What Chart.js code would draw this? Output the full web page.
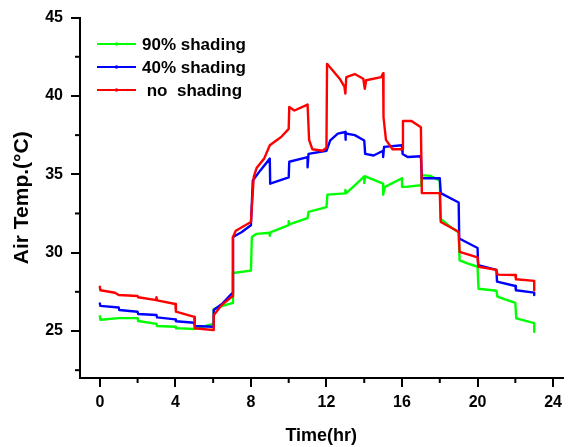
<!DOCTYPE html>
<html>
<head>
<meta charset="utf-8">
<script src="https://cdn.jsdelivr.net/npm/chart.js@4.4.1/dist/chart.umd.min.js"></script>
<style>
  html, body { margin: 0; padding: 0; background: #fff; }
  #wrap { width: 568px; height: 447px; }
</style>
</head>
<body>
<div id="wrap"><canvas id="grafico"></canvas></div>
<script>
// dados: [hora, temperatura]
const shading90 = [
  [0, 25.95], [0.03, 25.72], [1, 25.82], [2, 25.82], [2.03, 25.64], [3, 25.45], [3.03, 25.32],
  [4, 25.27], [4.03, 25.18], [5, 25.13], [5.5, 25.3], [6, 25.45], [6.03, 26.4], [6.5, 26.6],
  [7, 26.78], [7.05, 28.7], [8, 28.85], [8.05, 31.0], [8.3, 31.2], [9, 31.27], [9, 31.08],
  [9.03, 31.3], [10, 31.75], [10, 32.0], [10.03, 31.8], [11, 32.2], [11.05, 32.6], [12, 32.9],
  [12.05, 33.7], [13, 33.78], [13, 34.0], [13.05, 33.8], [13.5, 34.3], [14, 34.87], [14, 34.45],
  [14.05, 34.87], [15, 34.4], [15, 33.7], [15.1, 34.2], [16, 34.75], [16, 34.2], [16.2, 34.2],
  [17, 34.3], [17.05, 34.95], [17.5, 34.9], [18, 34.6], [18.05, 32.15], [18.5, 31.7], [19, 31.28],
  [19.05, 29.5], [19.5, 29.3], [20, 29.1], [20.05, 27.7], [21, 27.57], [21.05, 27.2], [21.5, 27.0],
  [22, 26.8], [22.05, 25.8], [23, 25.5], [23, 24.95]
];

const shading40 = [
  [0, 26.76], [0.03, 26.6], [1, 26.5], [1.03, 26.34], [2, 26.23], [2.03, 26.08], [3, 26.02],
  [3.03, 25.87], [4, 25.74], [4.03, 25.62], [5, 25.53], [5.03, 25.32], [6, 25.27], [6.03, 26.34],
  [6.5, 26.76], [7, 27.4], [7.05, 31.0], [7.5, 31.3], [8, 31.75], [8.1, 34.6], [8.5, 35.25],
  [9, 36.0], [9.02, 34.4], [10, 34.8], [10.03, 35.8], [11, 36.1], [11, 35.45], [11.05, 36.3],
  [12, 36.5], [12.2, 37.16], [12.6, 37.6], [13, 37.7], [13, 37.2], [13.03, 37.6], [13.5, 37.5],
  [14, 37.16], [14.05, 36.3], [14.5, 36.2], [15, 36.5], [15, 36.1], [15.05, 36.75], [16, 36.85],
  [16.03, 36.3], [16.3, 36.1], [17, 36.15], [17.05, 34.75], [18, 34.75], [18.05, 33.8], [19, 33.2],
  [19.03, 30.9], [20, 30.3], [20.03, 29.2], [21, 28.9], [21.03, 28.15], [22, 27.87], [22.03, 27.6],
  [23, 27.45], [23, 27.3]
];

const noShading = [
  [0, 27.82], [0.03, 27.6], [0.8, 27.44], [1, 27.3], [2, 27.23], [2.03, 27.15], [3, 26.97],
  [3, 27.15], [3.03, 26.95], [4, 26.72], [4.03, 26.23], [5, 25.9], [5.03, 25.17], [6, 25.06],
  [6.03, 26.0], [6.45, 26.65], [7, 27.2], [7.05, 31.0], [7.2, 31.4], [8, 31.96], [8.15, 34.83],
  [8.3, 35.4], [8.7, 36.0], [9, 36.85], [9.6, 37.38], [10, 37.9], [10.03, 39.3], [10.3, 39.07],
  [11, 39.45], [11.08, 37.2], [11.25, 36.6], [11.8, 36.5], [12, 36.7], [12.03, 42.05],
  [12.7, 41.1], [12.95, 40.6], [13, 40.15], [13.05, 41.2], [13.5, 41.4], [13.95, 41.1],
  [14.03, 40.45], [14.1, 41.0], [14.9, 41.2], [15, 41.45], [15.02, 38.65], [15.15, 37.2],
  [15.5, 36.6], [16, 36.6], [16.05, 38.4], [16.5, 38.4], [17, 38.0], [17.05, 33.8], [18, 33.8],
  [18.05, 31.96], [19, 31.33], [19.05, 30.05], [20, 29.7], [20.05, 29.1], [21, 28.9],
  [21.05, 28.6], [22, 28.57], [22.03, 28.3], [23, 28.2], [23, 27.6]
];

const seriesNames = ['90% shading', '40% shading', ' no  shading'];

const xTicks = [0, 4, 8, 12, 16, 20, 24];
const xMinorTicks = [2, 6, 10, 14, 18, 22];
const yTicks = [25, 30, 35, 40, 45];
const yMinorTicks = [22.5, 27.5, 32.5, 37.5, 42.5];

const fonte = "'Liberation Sans', Arial, sans-serif";
Chart.defaults.font.family = fonte;
Chart.defaults.color = '#000';

const toXY = serie => serie.map(p => ({ x: p[0], y: p[1] }));

// ticks menores + legenda desenhados por cima
const extras = {
  id: 'extras',
  afterDraw(chart) {
    const ctx = chart.ctx;
    const xs = chart.scales.x;
    const ys = chart.scales.y;
    const area = chart.chartArea;
    ctx.save();
    ctx.strokeStyle = '#000';
    ctx.lineWidth = 2;
    xMinorTicks.forEach(v => {
      const px = xs.getPixelForValue(v);
      ctx.beginPath();
      ctx.moveTo(px, area.bottom);
      ctx.lineTo(px, area.bottom + 5);
      ctx.stroke();
    });
    yMinorTicks.forEach(v => {
      const py = ys.getPixelForValue(v);
      ctx.beginPath();
      ctx.moveTo(area.left, py);
      ctx.lineTo(area.left - 5, py);
      ctx.stroke();
    });

    // legenda
    const rows = [44, 67, 90];
    chart.data.datasets.forEach((ds, i) => {
      const y = rows[i];
      ctx.strokeStyle = ds.borderColor;
      ctx.lineWidth = 2;
      ctx.beginPath();
      ctx.moveTo(97, y);
      ctx.lineTo(136, y);
      ctx.stroke();
      ctx.fillStyle = ds.borderColor;
      ctx.beginPath();
      ctx.arc(116.5, y, 1.8, 0, Math.PI * 2);
      ctx.fill();
      ctx.fillStyle = '#000';
      ctx.font = 'bold 17px ' + fonte;
      ctx.textBaseline = 'middle';
      ctx.textAlign = 'left';
      ctx.fillText(ds.label, 142, y + 1);
    });
    ctx.restore();
  }
};

const config = {
  type: 'line',
  data: {
    datasets: [
      { label: seriesNames[0], data: toXY(shading90), borderColor: '#00ff00', order: 2 },
      { label: seriesNames[1], data: toXY(shading40), borderColor: '#0000ff', order: 1 },
      { label: seriesNames[2], data: toXY(noShading), borderColor: '#ff0000', order: 0 }
    ]
  },
  options: {
    responsive: true,
    maintainAspectRatio: false,
    animation: false,
    layout: { padding: { top: 17, right: 0, left: 0, bottom: 0 } },
    elements: {
      line: { borderWidth: 2.4, tension: 0, borderJoinStyle: 'round', borderCapStyle: 'round' },
      point: { radius: 0 }
    },
    scales: {
      x: {
        type: 'linear',
        min: -1.05,
        max: 24.5,
        afterBuildTicks: s => { s.ticks = xTicks.map(v => ({ value: v })); },
        afterFit: s => { s.height = 69; },
        ticks: {
          font: { size: 16, weight: 'bold' },
          color: '#000',
          padding: 6,
          maxRotation: 0,
          autoSkip: false
        },
        grid: { drawOnChartArea: false, drawTicks: true, tickLength: 9, lineWidth: 2, color: '#000' },
        border: { display: true, color: '#000', width: 2 },
        title: {
          display: true,
          text: 'Time(hr)',
          color: '#000',
          font: { size: 18, weight: 'bold' },
          padding: { top: 0, bottom: 0 }
        }
      },
      y: {
        type: 'linear',
        min: 22,
        max: 45,
        afterBuildTicks: s => { s.ticks = yTicks.map(v => ({ value: v })); },
        afterFit: s => { s.width = 80; },
        ticks: {
          font: { size: 16, weight: 'bold' },
          color: '#000',
          padding: 8
        },
        grid: { drawOnChartArea: false, drawTicks: true, tickLength: 9, lineWidth: 2, color: '#000' },
        border: { display: true, color: '#000', width: 2 },
        title: {
          display: true,
          text: 'Air Temp.(\u00B0C)',
          color: '#000',
          font: { size: 21, weight: 'bold' },
          padding: { top: 10, bottom: 0 }
        }
      }
    },
    plugins: {
      legend: { display: false },
      tooltip: { enabled: false }
    }
  },
  plugins: [extras]
};

const chart = new Chart(document.getElementById('grafico').getContext('2d'), config);
</script>
</body>
</html>
